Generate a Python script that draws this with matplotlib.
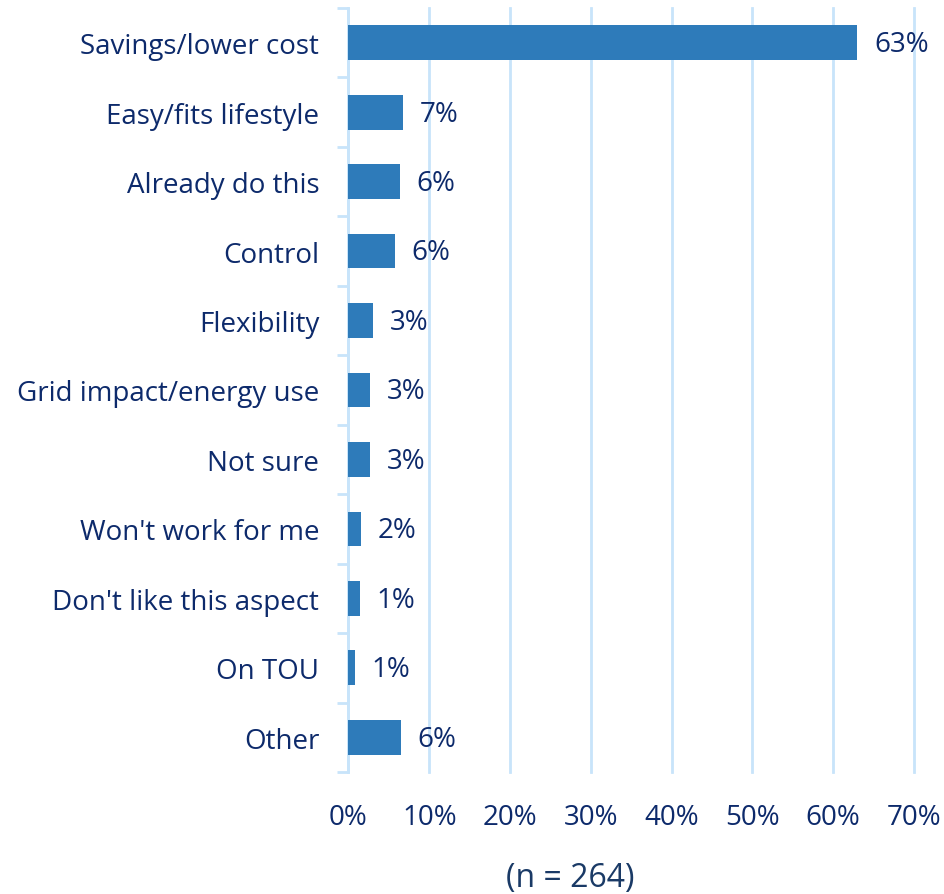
import matplotlib
matplotlib.use("Agg")
import matplotlib.pyplot as plt
from matplotlib.ticker import FixedLocator, PercentFormatter

categories = [
    "Savings/lower cost",
    "Easy/fits lifestyle",
    "Already do this",
    "Control",
    "Flexibility",
    "Grid impact/energy use",
    "Not sure",
    "Won't work for me",
    "Don't like this aspect",
    "On TOU",
    "Other",
]
shares = [63.0, 6.8, 6.4, 5.7, 3.0, 2.7, 2.7, 1.5, 1.4, 0.8, 6.5]
x_ticks = [0, 10, 20, 30, 40, 50, 60, 70]
note = "(n = 264)"

BAR = "#2E7BBA"
TEXT = "#0D2A6B"
GRID = "#C8E4FA"
FONT = ["Open Sans", "DejaVu Sans"]

plt.rcParams["font.family"] = FONT

W, H = 945, 895
fig = plt.figure(figsize=(W / 100, H / 100), dpi=100)
left, right, top, bottom = 348.5, 914.0, 9.0, 773.0
ax = fig.add_axes([left / W, 1 - bottom / H, (right - left) / W, (bottom - top) / H])

pos = list(range(len(categories)))
ax.barh(pos, shares, height=0.5, color=BAR, zorder=3)
ax.set_ylim(len(categories) - 0.5, -0.5)
ax.set_xlim(0, 70)

for y, v in zip(pos, shares):
    ax.annotate(f"{round(v)}%", xy=(v, y), xytext=(12, -1), textcoords="offset points",
                ha="left", va="center", fontsize=20, color=TEXT)

ax.xaxis.set_major_locator(FixedLocator(x_ticks))
ax.xaxis.set_major_formatter(PercentFormatter(decimals=0))
ax.grid(axis="x", color=GRID, linewidth=2, zorder=0)
for gl in ax.get_xgridlines():
    gl.set_clip_on(False)
ax.tick_params(axis="x", length=0, pad=22, labelsize=20, labelcolor=TEXT)

ax.set_yticks(pos)
ax.set_yticklabels(categories)
ax.yaxis.set_minor_locator(FixedLocator([p - 0.5 for p in pos] + [len(pos) - 0.5]))
ax.tick_params(axis="y", which="major", length=0, pad=21, labelsize=20, labelcolor=TEXT)
ax.tick_params(axis="y", which="minor", length=8, width=2, color=GRID)

for s in ("top", "right", "bottom"):
    ax.spines[s].set_visible(False)
ax.spines["left"].set_color(GRID)
ax.spines["left"].set_linewidth(2)

fig.text(570 / W, 1 - 879 / H, note, ha="center", va="center", fontsize=23, color="#1A3A66")

fig.savefig("out.png", dpi=100, facecolor="white")
